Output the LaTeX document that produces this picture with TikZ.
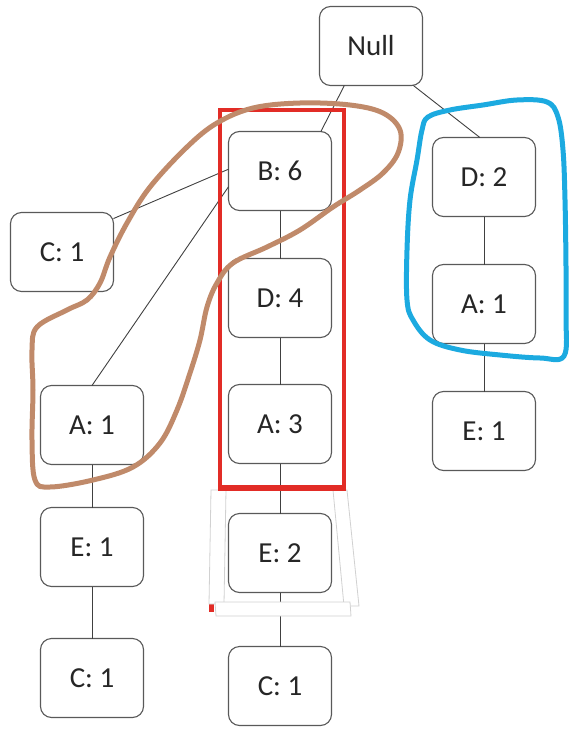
\documentclass[tikz,border=0pt]{standalone}
\usepackage{fontspec}
\setmainfont{Carlito}
\usepackage{tikz}
\usetikzlibrary{positioning}
\definecolor{penRed}{RGB}{226,44,38}
\definecolor{penBrown}{RGB}{192,138,106}
\definecolor{penBlue}{RGB}{28,170,224}
\tikzstyle{item}=[rectangle,rounded corners=11pt,draw=black!65,line width=1.1pt,fill=white,minimum width=103pt,minimum height=79pt,inner sep=0pt,outer sep=0pt,text=black!85,font=\fontsize{29}{32}\selectfont]
\tikzstyle{link}=[draw=black!75,line width=0.9pt]
\tikzstyle{tape}=[fill=white,draw=black!18,line width=0.8pt]

\begin{document}
\begin{tikzpicture}[x=1pt,y=-1pt,node distance=48pt]
  \useasboundingbox (0,0) rectangle (569,730);

  \node[item] (nullRoot) at (371,46) {Null};

  \node[item] (b6) at (280,171) {B: 6};
  \node[item, below = 48pt of b6] (d4) {D: 4};
  \node[item, below = 47pt of d4] (a3) {A: 3};
  \node[item, below = 50pt of a3] (e2) {E: 2};
  \node[item, below = 54pt of e2] (c1Mid) {C: 1};

  \node[item] (c1Left) at (62,252) {C: 1};
  \node[item] (a1Left) at (92,425) {A: 1};
  \node[item, below = 43pt of a1Left] (e1Left) {E: 1};
  \node[item, below = 52pt of e1Left] (c1Low) {C: 1};

  \node[item] (d2) at (484,177) {D: 2};
  \node[item, below = 48pt of d2] (a1Right) {A: 1};
  \node[item, below = 48pt of a1Right] (e1Right) {E: 1};

  \path[link] (nullRoot.-124) -- (b6.44);
  \path[link] (nullRoot.-43) -- (d2.96);
  \path[link] (b6.178) -- (c1Left.33);
  \path[link] (b6.-163) -- (a1Left.north);
  \path[link] (b6) -- (d4);
  \path[link] (d4) -- (a3);
  \path[link] (a3) -- (e2);
  \path[link] (e2) -- (c1Mid);
  \path[link] (a1Left) -- (e1Left);
  \path[link] (e1Left) -- (c1Low);
  \path[link] (d2) -- (a1Right);
  \path[link] (a1Right) -- (e1Right);

  \fill[penRed] (209,598) rectangle (214,612);
  \draw[tape] (211,490) -- (226,490) -- (224,604) -- (209,604) -- cycle;
  \draw[tape] (333,490) -- (347,490) -- (359,606) -- (344,606) -- cycle;
  \draw[tape] (215,602) -- (350,602) -- (351,616) -- (216,616) -- cycle;

  \draw[penRed,line width=4.5pt] (220,110) rectangle (344,487);
  \draw[penRed,line width=6pt] (218,488) -- (346,488);

  \draw[penBrown,line width=5pt] plot[smooth cycle,tension=0.6] coordinates {
    (150,187) (187,147) (217,123) (253,108) (300,103) (350,105) (383,113)
    (400,130) (398,153) (383,173) (360,190) (333,207) (300,230) (267,247)
    (233,263) (217,283) (207,307) (200,340) (190,373) (177,410) (160,443)
    (133,467) (93,480) (50,487) (35,480) (32,440) (33,390) (32,350)
    (37,327) (67,310) (87,300) (100,283) (110,257) (127,223)};

  \draw[penBlue,line width=5pt] plot[smooth cycle,tension=0.6] coordinates {
    (428,117) (450,110) (483,105) (517,100) (547,102) (558,117) (563,150)
    (565,200) (566,267) (566,317) (564,356) (540,358) (500,355) (460,350)
    (430,340) (413,320) (407,300) (407,250) (410,200) (417,160) (422,130)};
\end{tikzpicture}
\end{document}
